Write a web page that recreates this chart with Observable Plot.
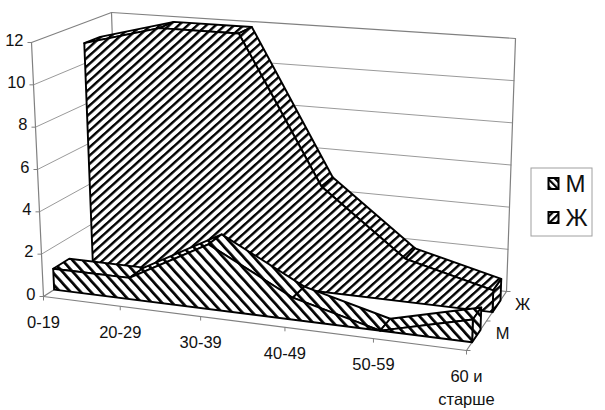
<!DOCTYPE html>
<html>
<head>
<meta charset="utf-8">
<script src="https://cdn.jsdelivr.net/npm/d3@7"></script>
<script src="https://cdn.jsdelivr.net/npm/@observablehq/plot@0.6"></script>
<style>body{margin:0;background:#fff}</style>
</head>
<body>
<div id="chart"></div>
<script>
const categories = ["0-19","20-29","30-39","40-49","50-59","60 и\nстарше"];
const seriesNames = ["М","Ж"];
const valuesM = [1,1,3,1,0,1];
const valuesZh = [11,12,12,5,2,1];
const valueTicks = [0,2,4,6,8,10,12];
const depthM = [0.14,0.35];
const depthZh = [0.65,0.85];
const maxValue = 12;

// Corners of the 3-D box as they appear on the picture
const box = {
  fl0:[43,296], fr0:[466,350], bl0:[119,247], br0:[506,291],
  fl1:[31,42],  fr1:[475,74],  bl1:[111,12],  br1:[515,38]
};
const mix = (a,b,t)=>[a[0]+(b[0]-a[0])*t, a[1]+(b[1]-a[1])*t];
const warp = (u,k)=>u/(u+k*(1-u));
function project(t,v,w){
  const u = warp(t/(categories.length-1),1.128);
  const low = mix(mix(box.fl0,box.fr0,u),mix(box.bl0,box.br0,u),w);
  const high = mix(mix(box.fl1,box.fr1,u),mix(box.bl1,box.br1,u),w);
  return mix(low,high,v/maxValue);
}
const P = (face,t,v,w)=>{const [x,y]=project(t,v,w);return {face,x,y};};
const last = categories.length-1;

function faces(values,[w0,w1],name){
  const rows=[];
  values.slice(0,-1).forEach((v,i)=>{
    const f=`${name}-top-${i}`;
    rows.push(P(f,i,v,w0),P(f,i+1,values[i+1],w0),P(f,i+1,values[i+1],w1),P(f,i,v,w1));
  });
  const c=`${name}-end`;
  rows.push(P(c,last,0,w0),P(c,last,values[last],w0),P(c,last,values[last],w1),P(c,last,0,w1));
  const fr=`${name}-front`;
  values.forEach((v,i)=>rows.push(P(fr,i,v,w0)));
  rows.push(P(fr,last,0,w0),P(fr,0,0,w0));
  return rows;
}

const wallLines=[];
const W=(id,a,b)=>{wallLines.push({id,x:a[0],y:a[1]},{id,x:b[0],y:b[1]});};
W("f-left",project(0,0,0),project(0,12,0));
W("b-left",project(0,0,1),project(0,12,1));
W("b-right",project(last,0,1),project(last,12,1));
W("floor-f",project(0,0,0),project(last,0,0));
W("floor-r",project(last,0,0),project(last,0,1));
W("floor-l",project(0,0,0),project(0,0,1));
W("floor-b",project(0,0,1),project(last,0,1));
W("top-l",project(0,12,0),project(0,12,1));
W("top-b",project(0,12,1),project(last,12,1));

const gridLines=[];
valueTicks.filter(v=>v>0&&v<12).forEach(v=>{
  const a=project(0,v,0),b=project(0,v,1),c=project(last,v,1);
  gridLines.push({id:v,x:a[0],y:a[1]},{id:v,x:b[0],y:b[1]},{id:v,x:c[0],y:c[1]});
});

const xTickData=categories.map((c,i)=>{const [x,y]=project(i,0,0);return {c,x,y};});
const yTickData=valueTicks.map(v=>{const [x,y]=project(0,v,0);return {v,x,y};});
const depthTickData=[0,0.5,1].map(w=>{const [x,y]=project(last,0,w);return {x,y};});
const depthLabels=[{s:seriesNames[0],w:0.25},{s:seriesNames[1],w:0.75}].map(d=>{const [x,y]=project(last,0,d.w);return {...d,x,y};});

const defs=()=>{
  const s=d3.create("svg:defs");
  [["hatchZh",48,6.2,2.4],["hatchM",-42,7.6,2.7]].forEach(([id,a,size,thick])=>{
    const p=s.append("pattern").attr("id",id).attr("patternUnits","userSpaceOnUse")
      .attr("width",size).attr("height",size).attr("patternTransform",`rotate(${a})`);
    p.append("rect").attr("width",size).attr("height",size).attr("fill","#fff");
    p.append("rect").attr("width",thick).attr("height",size).attr("fill","#000");
  });
  [["legendZh",45],["legendM",-45]].forEach(([id,a])=>{
    const p=s.append("pattern").attr("id",id).attr("patternUnits","userSpaceOnUse")
      .attr("width",5).attr("height",5).attr("patternTransform",`rotate(${a})`);
    p.append("rect").attr("width",5).attr("height",5).attr("fill","#fff");
    p.append("rect").attr("width",2.2).attr("height",5).attr("fill","#000");
  });
  return s.node();
};

const legend=[
  {s:seriesNames[0],y:178,fill:"url(#legendM)"},
  {s:seriesNames[1],y:212,fill:"url(#legendZh)"}
];

const faceStyle={x:"x",y:"y",z:"face",curve:"linear-closed",stroke:"#000",strokeWidth:1.9};
const chart=Plot.plot({
  width:605,height:410,margin:0,
  x:{domain:[0,605],range:[0,605],axis:null},
  y:{domain:[0,410],range:[0,410],axis:null},
  style:{fontFamily:"'Liberation Sans',Arial,sans-serif",background:"#fff",color:"#111"},
  marks:[
    defs,
    Plot.line(gridLines,{x:"x",y:"y",z:"id",stroke:"#9a9a9a",strokeWidth:1}),
    Plot.line(wallLines,{x:"x",y:"y",z:"id",stroke:"#808080",strokeWidth:1.2}),
    Plot.link(xTickData,{x1:"x",x2:"x",y1:"y",y2:d=>d.y+4,stroke:"#808080"}),
    Plot.link(yTickData,{x1:"x",x2:d=>d.x-4,y1:"y",y2:"y",stroke:"#808080"}),
    Plot.link(depthTickData,{x1:"x",x2:d=>d.x+4,y1:"y",y2:"y",stroke:"#808080"}),
    Plot.line(faces(valuesZh,depthZh,"zh"),{...faceStyle,fill:"url(#hatchZh)"}),
    Plot.line(faces(valuesM,depthM,"m"),{...faceStyle,fill:"url(#hatchM)"}),
    Plot.text(yTickData,{x:d=>d.x-8,y:d=>d.y-2,text:d=>String(d.v),textAnchor:"end",fontSize:16.5,fill:"#111"}),
    Plot.text(xTickData,{x:"x",y:d=>d.y+15,text:"c",lineAnchor:"top",lineHeight:1.4,fontSize:16.5,fill:"#111"}),
    Plot.text(depthLabels,{x:d=>d.x+26,y:d=>d.y-2,text:"s",fontSize:16.5,fill:"#111"}),
    Plot.rect([{}],{x1:()=>531,x2:()=>592,y1:()=>168,y2:()=>236,fill:"#fff",stroke:"#a0a0a0",strokeWidth:1}),
    Plot.rect(legend,{x1:()=>548.5,x2:()=>558.5,y1:d=>d.y,y2:d=>d.y+11,fill:"fill",stroke:"#000",strokeWidth:2}),
    Plot.text(legend,{x:()=>565,y:d=>d.y+6,text:"s",textAnchor:"start",fontSize:24,fill:"#111"})
  ]
});
document.getElementById("chart").append(chart);
</script>
</body>
</html>
